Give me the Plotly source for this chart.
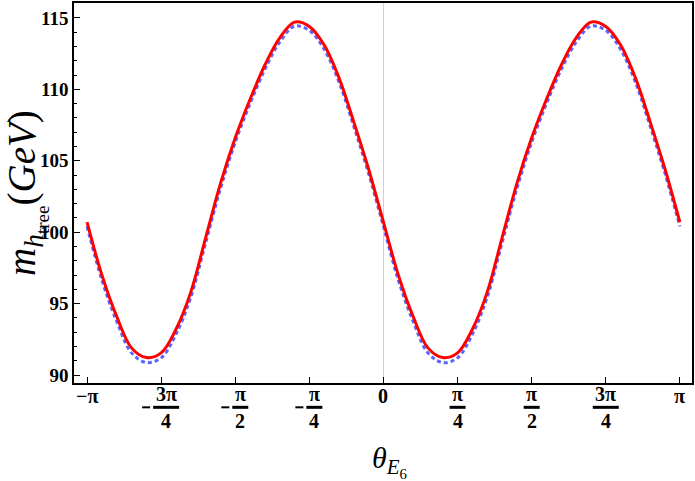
import numpy as np
import plotly.graph_objects as go

# theta in units of pi, sampled every pi/20 from -pi to pi
THETA_OVER_PI = [
    -1.00, -0.95, -0.90, -0.85, -0.80, -0.75, -0.70, -0.65, -0.60, -0.55,
    -0.50, -0.45, -0.40, -0.35, -0.30, -0.25, -0.20, -0.15, -0.10, -0.05,
    0.00, 0.05, 0.10, 0.15, 0.20, 0.25, 0.30, 0.35, 0.40, 0.45,
    0.50, 0.55, 0.60, 0.65, 0.70, 0.75, 0.80, 0.85, 0.90, 0.95, 1.00,
]

# red solid curve (GeV)
M_RED = [
    100.7, 97.0, 94.1, 91.9, 91.22, 91.55, 93.2, 95.8, 99.6, 103.4,
    106.6, 109.3, 111.7, 113.6, 114.7, 114.4, 113.1, 110.8, 107.7, 104.4,
    100.7, 97.0, 94.1, 91.9, 91.22, 91.55, 93.2, 95.8, 99.6, 103.4,
    106.6, 109.3, 111.7, 113.6, 114.7, 114.4, 113.1, 110.8, 107.7, 104.4, 100.7,
]

# blue dotted curve (GeV)
M_BLUE = [
    100.4, 96.65, 93.75, 91.55, 90.87, 91.2, 92.85, 95.45, 99.25, 103.05,
    106.3, 109.0, 111.4, 113.3, 114.42, 114.12, 112.8, 110.5, 107.4, 104.1,
    100.4, 96.65, 93.75, 91.55, 90.87, 91.2, 92.85, 95.45, 99.25, 103.05,
    106.3, 109.0, 111.4, 113.3, 114.42, 114.12, 112.8, 110.5, 107.4, 104.1, 100.4,
]

# x tick positions (units of pi) and their labels: (sign, numerator, denominator)
TICK_POS = [-1.0, -0.75, -0.5, -0.25, 0.0, 0.25, 0.5, 0.75, 1.0]
TICK_LABELS = [
    ("", "−π", ""), ("−", "3π", "4"), ("−", "π", "2"), ("−", "π", "4"),
    ("", "0", ""), ("", "π", "4"), ("", "π", "2"), ("", "3π", "4"), ("", "π", ""),
]

theta = np.array(THETA_OVER_PI) * np.pi
TICK_FONT = dict(family="Liberation Serif", size=20, color="black")

fig = go.Figure()
fig.add_trace(go.Scatter(
    x=theta, y=M_BLUE, mode="lines", line_shape="spline",
    line=dict(color="#5a64ff", width=3, dash="4px,3px"),
    hoverinfo="skip",
))
fig.add_trace(go.Scatter(
    x=theta, y=M_RED, mode="lines", line_shape="spline",
    line=dict(color="#ff0000", width=3),
    hoverinfo="skip",
))

# tick labels drawn as stacked fractions
for pos, (sign, num, den) in zip(TICK_POS, TICK_LABELS):
    xv = pos * np.pi
    if not den:
        fig.add_annotation(x=xv, y=-0.034, xref="x", yref="paper", yanchor="middle",
                           text=f"<b>{num}</b>", showarrow=False, font=TICK_FONT)
        continue
    shift = 5 if sign else 0
    half = 13 if len(num) > 1 else 8
    fig.add_annotation(x=xv, y=-0.029, xref="x", yref="paper", yanchor="middle",
                       xshift=shift, text=f"<b>{num}</b>", showarrow=False, font=TICK_FONT)
    fig.add_shape(type="line", xref="x", yref="paper", xsizemode="pixel", xanchor=xv,
                  x0=shift - half, x1=shift + half, y0=-0.064, y1=-0.064,
                  line=dict(color="black", width=3))
    fig.add_annotation(x=xv, y=-0.1, xref="x", yref="paper", yanchor="middle",
                       xshift=shift, text=f"<b>{den}</b>", showarrow=False, font=TICK_FONT)
    if sign:
        fig.add_shape(type="line", xref="x", yref="paper", xsizemode="pixel", xanchor=xv,
                      x0=shift - half - 11, x1=shift - half - 3, y0=-0.064, y1=-0.064,
                      line=dict(color="black", width=2))

# x axis title
fig.add_annotation(x=0.5, y=-0.148, xref="paper", yref="paper", yanchor="top",
                   xshift=6, text="<i>θ</i><sub><i>E</i><sub>6</sub></sub>",
                   showarrow=False, font=dict(family="Liberation Serif", size=30, color="black"))

fig.update_layout(
    width=695, height=481,
    margin=dict(l=74, r=1, t=1, b=98),
    paper_bgcolor="white", plot_bgcolor="white",
    showlegend=False,
    font=dict(family="Liberation Serif", color="black"),
    xaxis=dict(
        range=[-3.28, 3.27],
        tickvals=[p * np.pi for p in TICK_POS],
        showticklabels=False,
        ticks="inside", ticklen=6, tickwidth=1, tickcolor="black",
        showline=True, linecolor="black", linewidth=1.5, mirror=True,
        showgrid=False,
        zeroline=True, zerolinecolor="#d0d0d0", zerolinewidth=1,
    ),
    yaxis=dict(
        range=[89.44, 116.04],
        tickvals=[90, 95, 100, 105, 110, 115],
        ticktext=["<b>90</b>", "<b>95</b>", "<b>100</b>", "<b>105</b>", "<b>110</b>", "<b>115</b>"],
        tickfont=dict(family="Liberation Serif", size=19),
        ticks="inside", ticklen=6, tickwidth=1, tickcolor="black",
        minor=dict(dtick=1, ticks="inside", ticklen=3, tickcolor="black", showgrid=False),
        showline=True, linecolor="black", linewidth=1.5, mirror=True,
        showgrid=False, zeroline=False,
        title=dict(
            text="<i>m</i><sub><i>h</i><sub>tree</sub></sub>(<i>GeV</i>)",
            font=dict(family="Liberation Serif", size=39),
            standoff=2,
        ),
    ),
)

fig.write_html("out.html", config={"displayModeBar": False},
               post_script="document.body.style.margin='0';")
